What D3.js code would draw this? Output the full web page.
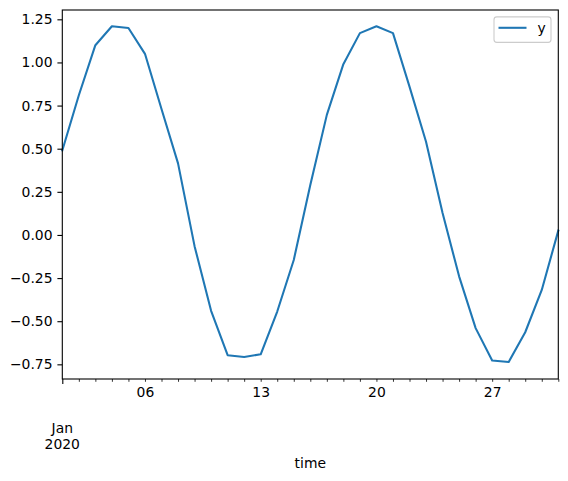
<!DOCTYPE html>
<html>
<head>
<meta charset="utf-8">
<script src="https://cdn.jsdelivr.net/npm/d3@7"></script>
<style>
  html, body { margin: 0; padding: 0; background: #fff; }
  svg { display: block; font-family: "DejaVu Sans", sans-serif; }
</style>
</head>
<body>
<svg id="chart" width="568" height="481"></svg>
<script>
// ---- data ----
const startDate = "2020-01-01";
const yValues = [0.49, 0.81, 1.10, 1.21, 1.20, 1.05, 0.73, 0.415, -0.065, -0.44,
  -0.697, -0.707, -0.692, -0.444, -0.145, 0.29, 0.696, 0.99, 1.17, 1.21,
  1.17, 0.86, 0.54, 0.127, -0.24, -0.54, -0.728, -0.736, -0.564, -0.319, 0.025];
const yTicks = [-0.75, -0.5, -0.25, 0, 0.25, 0.5, 0.75, 1.0, 1.25];
const xLabelDays = [6, 13, 20, 27];
const seriesName = "y";
const xTitle = "time";

// ---- layout ----
const svg = d3.select("#chart");
const L = 62.3, R = 558.3, T = 10, B = 379;
const color = "#1f77b4";

const t0 = new Date(startDate + "T00:00:00Z");
const dates = yValues.map((_, i) => d3.utcDay.offset(t0, i));
const data = dates.map((d, i) => ({ date: d, value: yValues[i] }));

const x = d3.scaleUtc().domain([dates[0], dates[dates.length - 1]]).range([L, R]);
const y = d3.scaleLinear().domain([-0.835, 1.304]).range([B, T]);

// line
const line = d3.line().x(d => x(d.date)).y(d => y(d.value));
svg.append("path").datum(data)
  .attr("d", line).attr("fill", "none").attr("stroke", color)
  .attr("stroke-width", 2.08).attr("stroke-linejoin", "round").attr("stroke-linecap", "square");

// y axis
const fmt = v => d3.format(".2f")(v).replace("-", "\u2212");
const yAxis = d3.axisLeft(y).tickValues(yTicks).tickFormat(fmt).tickSize(4.9).tickPadding(4.9);
const gy = svg.append("g").attr("transform", `translate(${L},0)`).call(yAxis);
gy.select(".domain").remove();
gy.selectAll(".tick line").attr("stroke", "#000").attr("stroke-width", 1.1);
gy.selectAll(".tick text").attr("font-size", 13.9).attr("fill", "#000")
  .attr("font-family", "DejaVu Sans");

// x axis minor ticks (daily)
const minorDays = dates.slice(1);
const gxm = svg.append("g").attr("transform", `translate(0,${B})`)
  .call(d3.axisBottom(x).tickValues(minorDays)
    .tickFormat(d => xLabelDays.includes(d.getUTCDate()) ? d3.utcFormat("%d")(d) : "")
    .tickSize(2.8).tickPadding(4.9));
gxm.select(".domain").remove();
gxm.selectAll(".tick line").attr("stroke", "#000").attr("stroke-width", 0.8);
gxm.selectAll(".tick text").attr("font-size", 13.9).attr("fill", "#000")
  .attr("font-family", "DejaVu Sans");

// major tick at start
const gxM = svg.append("g").attr("transform", `translate(0,${B})`)
  .call(d3.axisBottom(x).tickValues([dates[0]]).tickFormat("").tickSize(4.9));
gxM.select(".domain").remove();
gxM.selectAll(".tick line").attr("stroke", "#000").attr("stroke-width", 1.1);
const majLabel = svg.append("text").attr("x", x(dates[0])).attr("text-anchor", "middle")
  .attr("font-size", 13.9).attr("fill", "#000");
majLabel.append("tspan").attr("x", x(dates[0])).attr("y", 433).text(d3.utcFormat("%b")(dates[0]));
majLabel.append("tspan").attr("x", x(dates[0])).attr("y", 449).text(d3.utcFormat("%Y")(dates[0]));

// x title
svg.append("text").attr("x", (L + R) / 2).attr("y", 468).attr("text-anchor", "middle")
  .attr("font-size", 13.9).attr("fill", "#000").text(xTitle);

// spines
svg.append("rect").attr("x", L).attr("y", T).attr("width", R - L).attr("height", B - T)
  .attr("fill", "none").attr("stroke", "#000").attr("stroke-width", 1.1);

// legend
const lg = svg.append("g");
lg.append("rect").attr("x", 494).attr("y", 16.9).attr("width", 57).attr("height", 25.5)
  .attr("rx", 2.8).attr("fill", "#fff").attr("fill-opacity", 0.8)
  .attr("stroke", "#cccccc").attr("stroke-width", 1.1);
lg.append("line").attr("x1", 498.5).attr("x2", 526.5).attr("y1", 27.8).attr("y2", 27.8)
  .attr("stroke", color).attr("stroke-width", 2.08);
lg.append("text").attr("x", 537.5).attr("y", 32.8).attr("font-size", 13.9).attr("fill", "#000")
  .text(seriesName);
</script>
</body>
</html>
